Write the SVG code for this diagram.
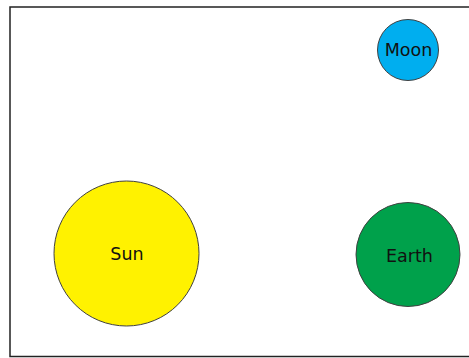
<svg xmlns="http://www.w3.org/2000/svg" width="469" height="358" viewBox="0 0 469 358">
<style>
.body{stroke:#404040;stroke-width:1}
.lbl{font-family:"DejaVu Sans",sans-serif;font-size:17.5px;fill:#111;text-anchor:middle}
</style>
<rect x="0" y="0" width="469" height="358" fill="#fff"/>
<rect x="10" y="7" width="470" height="349.5" fill="none" stroke="#222" stroke-width="1.5"/>
<g id="connectors"></g>
<g id="sun">
<circle class="body" cx="126.5" cy="253.5" r="72.5" fill="#fff200"/>
<text class="lbl" x="127" y="260">Sun</text>
</g>
<g id="earth">
<circle class="body" cx="408" cy="254.5" r="52" fill="#00a14b"/>
<text class="lbl" x="409.5" y="262">Earth</text>
</g>
<g id="moon">
<circle class="body" cx="408" cy="50" r="30.5" fill="#00aeef"/>
<text class="lbl" x="408.5" y="56">Moon</text>
</g>
</svg>
